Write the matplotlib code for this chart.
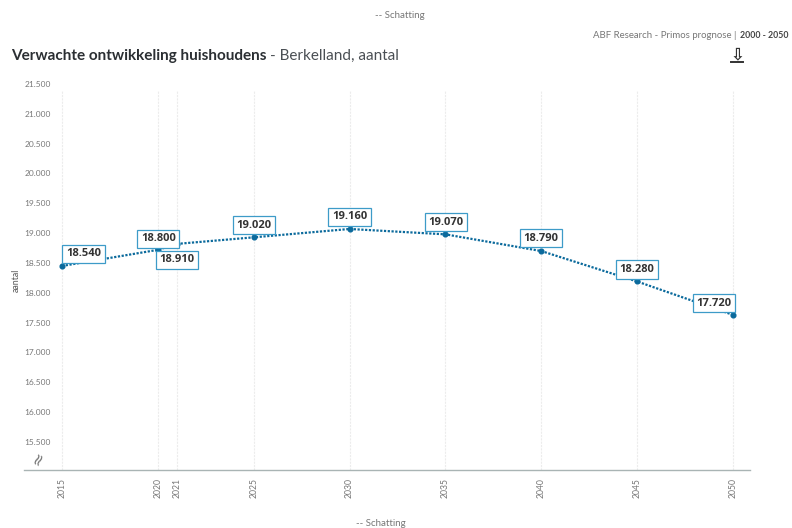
import matplotlib
matplotlib.use("Agg")
import matplotlib.pyplot as plt
from matplotlib.lines import Line2D

plt.rcParams['font.family'] = ['Lato', 'DejaVu Sans']

# waarden
jaren = [2015, 2020, 2021, 2025, 2030, 2035, 2040, 2045, 2050]
punten = [18450, 18720, 18820, 18930, 19070, 18980, 18700, 18190, 17630]
labels = ["18.540", "18.800", "18.910", "19.020", "19.160", "19.070", "18.790", "18.280", "17.720"]
y_ticks = [15500, 16000, 16500, 17000, 17500, 18000, 18500, 19000, 19500, 20000, 20500, 21000, 21500]
y_labels = ["15.500", "16.000", "16.500", "17.000", "17.500", "18.000", "18.500", "19.000", "19.500", "20.000", "20.500", "21.000", "21.500"]
# plek van de labels t.o.v. het punt, in pixels
label_offset = [(21.5, 12), (0.5, 11), (0, -16), (0.5, 12), (0, 12), (0.5, 12), (0, 13), (0, 12), (-19, 11.5)]

W, H = 792, 528
blauw = "#0b6a9c"
grijs = "#777777"

fig = plt.figure(figsize=(W / 100, H / 100), dpi=100, facecolor="white")
ax = fig.add_axes([24 / W, 1 - 470 / H, (750 - 24) / W, (470 - 84) / H])

ax.set_xlim(2015 - 38 / 19.17, 2015 + 688 / 19.17)
ax.set_ylim(15030, 21500)

ax.vlines(jaren, 15030, 21400, color="#ececec", lw=0.8, linestyles=(0, (2, 1)), zorder=1)
ax.plot(jaren, punten, color=blauw, lw=1.6, linestyle=(0, (1, 0.7)), marker="o", ms=3.4, zorder=3)

for j, p, t, o in zip(jaren, punten, labels, label_offset):
    ax.annotate(t, (j, p), xytext=(o[0] * 0.72, o[1] * 0.72), textcoords="offset points",
                ha="center", va="center", fontsize=8, fontweight="bold", color="#333333",
                family="Open Sans",
                bbox=dict(boxstyle="square,pad=0.32", fc="white", ec="#3d9bc8", lw=0.9), zorder=4)

ax.set_xticks(jaren)
ax.set_xticklabels(jaren, rotation=90, fontsize=6.2, color=grijs)
ax.set_yticks(y_ticks)
ax.set_yticklabels(y_labels, fontsize=6, color=grijs)
ax.tick_params(axis="x", length=0, pad=5.5)
ax.tick_params(axis="y", length=0, pad=-19.5)
for s in ["top", "left", "right"]:
    ax.spines[s].set_visible(False)
ax.spines["bottom"].set_color("#a9b4b4")
ax.spines["bottom"].set_linewidth(1)

fig.text(16 / W, 1 - 280 / H, "aantal", rotation=90, fontsize=6.4, color="#555555", ha="center", va="center")
fig.text(38 / W, 1 - 459 / H, "≈", rotation=65, fontsize=12, color=grijs, ha="center", va="center", family="DejaVu Sans")

# titel en bron
fig.text(11.5 / W, 1 - 56 / H, "Verwachte ontwikkeling huishoudens", fontsize=11, fontweight="bold",
         color="#2b2f33", ha="left", va="center")
fig.text(270 / W, 1 - 56 / H, "- Berkelland, aantal", fontsize=11, color="#4a4f54", ha="left", va="center")
fig.text(593 / W, 1 - 35 / H, "ABF Research - Primos prognose |", fontsize=6.9, color=grijs, ha="left", va="center")
fig.text(788 / W, 1 - 35 / H, "2000 - 2050", fontsize=6.3, fontweight="bold", color="#444444", ha="right", va="center")

# download icoon
fig.text(737 / W, 1 - 54 / H, "⇩", fontsize=12, fontweight="bold", color="#333333", ha="center", va="center",
         family="DejaVu Sans")
fig.add_artist(Line2D([731 / W, 743 / W], [1 - 61.5 / H, 1 - 61.5 / H], color="#333333", lw=1.4))

# legenda boven en onder
fig.text(400 / W, 1 - 15 / H, "-- Schatting", fontsize=7, color=grijs, ha="center", va="center")
fig.text(381 / W, 1 - 524 / H, "-- Schatting", fontsize=7, color=grijs, ha="center", va="center")

fig.savefig("out.png", dpi=100)
